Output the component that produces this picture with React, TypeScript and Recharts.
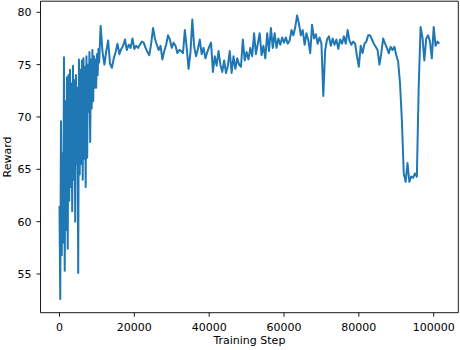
import { LineChart, Line, XAxis, YAxis } from "recharts"

// training steps (dense logging for the first 11k steps, then every 500)
const steps = [
  0, 200, 400, 600, 800, 1000, 1200, 1400, 1600, 1800,
  2000, 2200, 2400, 2600, 2800, 3000, 3200, 3400, 3600, 3800,
  4000, 4200, 4400, 4600, 4800, 5000, 5200, 5400, 5600, 5800,
  6000, 6200, 6400, 6600, 6800, 7000, 7200, 7400, 7600, 7800,
  8000, 8200, 8400, 8600, 8800, 9000, 9200, 9400, 9600, 9800,
  10000, 10200, 10400, 10600, 10800,
  11000, 11500, 12000, 12500, 13000, 13500, 14000, 14500, 15000, 15500,
  16000, 16500, 17000, 17500, 18000, 18500, 19000, 19500, 20000, 20500,
  21000, 21500, 22000, 22500, 23000, 23500, 24000, 24500, 25000, 25500,
  26000, 26500, 27000, 27500, 28000, 28500, 29000, 29500, 30000, 30500,
  31000, 31500, 32000, 32500, 33000, 33500, 34000, 34500, 35000, 35500,
  36000, 36500, 37000, 37500, 38000, 38500, 39000, 39500, 40000, 40500,
  41000, 41500, 42000, 42500, 43000, 43500, 44000, 44500, 45000, 45500,
  46000, 46500, 47000, 47500, 48000, 48500, 49000, 49500, 50000, 50500,
  51000, 51500, 52000, 52500, 53000, 53500, 54000, 54500, 55000, 55500,
  56000, 56500, 57000, 57500, 58000, 58500, 59000, 59500, 60000, 60500,
  61000, 61500, 62000, 62500, 63000, 63500, 64000, 64500, 65000, 65500,
  66000, 66500, 67000, 67500, 68000, 68500, 69000, 69500, 70000, 70500,
  71000, 71500, 72000, 72500, 73000, 73500, 74000, 74500, 75000, 75500,
  76000, 76500, 77000, 77500, 78000, 78500, 79000, 79500, 80000, 80500,
  81000, 81500, 82000, 82500, 83000, 83500, 84000, 84500, 85000, 85500,
  86000, 86500, 87000, 87500, 88000, 88500, 89000, 89500, 90000, 90500,
  91000, 91500, 92000, 92500, 93000, 93500, 94000, 94500, 95000, 95500,
  96000, 96500, 97000, 97500, 98000, 98500, 99000, 99500, 100000, 100500,
  101000, 101500,
]

const rewards = [
  61.5, 52.6, 69.6, 56.8, 66.5, 58.0, 75.7, 55.3, 71.5, 59.2,
  73.8, 57.4, 74.0, 62.0, 74.5, 63.3, 73.2, 61.0, 74.9, 64.0,
  73.5, 60.0, 74.0, 65.5, 72.8, 55.1, 75.5, 64.5, 74.5, 65.5,
  75.4, 64.0, 75.6, 66.0, 74.8, 63.3, 75.8, 66.1, 75.0, 70.5,
  76.2, 67.6, 75.5, 70.8, 76.4, 71.5, 75.8, 72.8, 75.5, 72.8,
  76.0, 74.0, 76.5, 75.2, 77.0,
  78.7, 76.2, 75.0, 76.3, 77.3, 75.1, 74.7, 75.6, 76.2, 77.0,
  76.0, 76.5, 76.8, 77.4, 76.4, 76.9, 76.6, 77.5, 76.5, 76.8,
  76.6, 76.9, 77.2, 77.1, 76.6, 76.2, 75.9, 77.0, 78.5, 77.5,
  76.9, 76.4, 76.8, 75.5, 76.3, 76.9, 77.8, 77.4, 76.6, 77.1,
  76.8, 76.1, 76.4, 76.3, 76.1, 78.3, 76.6, 74.6, 76.2, 79.3,
  76.7, 75.8, 76.5, 77.4, 76.0, 76.6, 75.6, 76.2, 76.7, 77.1,
  74.3, 75.8, 74.9, 76.3, 75.0, 74.3, 75.4, 74.2, 74.9, 76.3,
  74.2, 75.8, 74.6, 75.6, 75.0, 74.8, 77.4, 75.4, 76.2, 75.5,
  76.6, 75.8, 78.0, 76.0, 77.0, 78.0, 75.9, 76.8, 75.6, 78.0,
  76.3, 78.5, 76.6, 78.0, 76.6, 77.5, 76.9, 77.6, 77.1, 77.6,
  77.0, 77.3, 78.3, 77.8, 78.6, 79.7, 78.9, 77.8, 78.3, 76.9,
  78.0, 77.3, 76.1, 78.8, 77.5, 77.9, 77.0, 77.6, 77.0, 72.0,
  76.4, 77.4, 77.7, 76.8, 77.5, 76.9, 77.4, 76.5, 77.4, 77.0,
  77.7, 77.0, 78.3, 77.3, 76.9, 77.2, 77.0, 75.8, 74.8, 76.8,
  76.1, 77.0, 77.2, 77.8, 77.8, 77.4, 77.0, 76.7, 76.4, 75.0,
  76.1, 77.5, 77.0, 76.6, 76.1, 76.7, 76.4, 76.7, 75.9, 75.3,
  73.2, 69.7, 64.6, 63.8, 65.6, 63.8, 64.3, 64.2, 64.6, 64.3,
  73.0, 78.6, 77.6, 75.4, 77.5, 77.8, 77.2, 75.6, 78.6, 76.8,
  77.2, 77.0,
]

const xTicks = [0, 20000, 40000, 60000, 80000, 100000]
const yTicks = [55, 60, 65, 70, 75, 80]

const data = steps.map((step, i) => ({ step, reward: rewards[i] }))

const font = "DejaVu Sans"
const tickStyle = { fill: "#000", fontSize: 11, fontFamily: font }
const spine = { stroke: "#000", strokeWidth: 0.9 }
const xDomain = [-5075, 106575]
const yDomain = [51.3, 81.06]

export default function App() {
  return (
    <div style={{ position: "absolute", left: 0, top: 0, background: "#fff" }}>
      <LineChart
        width={460}
        height={350}
        data={data}
        margin={{ top: 0, right: 0, bottom: 0, left: 0 }}
      >
        <XAxis
          dataKey="step"
          type="number"
          domain={xDomain}
          ticks={xTicks}
          allowDataOverflow
          height={37.3}
          tick={tickStyle}
          tickSize={4}
          tickMargin={6}
          tickLine={spine}
          axisLine={spine}
          label={{
            value: "Training Step",
            position: "insideBottom",
            offset: 6,
            fill: "#000",
            fontSize: 11,
            fontFamily: font,
          }}
        />
        <XAxis
          xAxisId="top"
          orientation="top"
          type="number"
          domain={xDomain}
          height={1.2}
          ticks={[]}
          tick={false}
          tickLine={false}
          axisLine={spine}
        />
        <YAxis
          type="number"
          domain={yDomain}
          ticks={yTicks}
          allowDataOverflow
          width={40.5}
          tick={tickStyle}
          tickSize={4}
          tickMargin={5}
          tickLine={spine}
          axisLine={spine}
          label={{
            value: "Reward",
            angle: -90,
            position: "insideLeft",
            offset: 7,
            fill: "#000",
            fontSize: 11,
            fontFamily: font,
            style: { textAnchor: "middle" },
          }}
        />
        <YAxis
          yAxisId="right"
          orientation="right"
          type="number"
          domain={yDomain}
          width={1.7}
          ticks={[]}
          tick={false}
          tickLine={false}
          axisLine={spine}
        />
        <Line
          type="linear"
          dataKey="reward"
          stroke="#1f77b4"
          strokeWidth={2}
          strokeLinejoin="round"
          dot={false}
          isAnimationActive={false}
        />
      </LineChart>
    </div>
  )
}
